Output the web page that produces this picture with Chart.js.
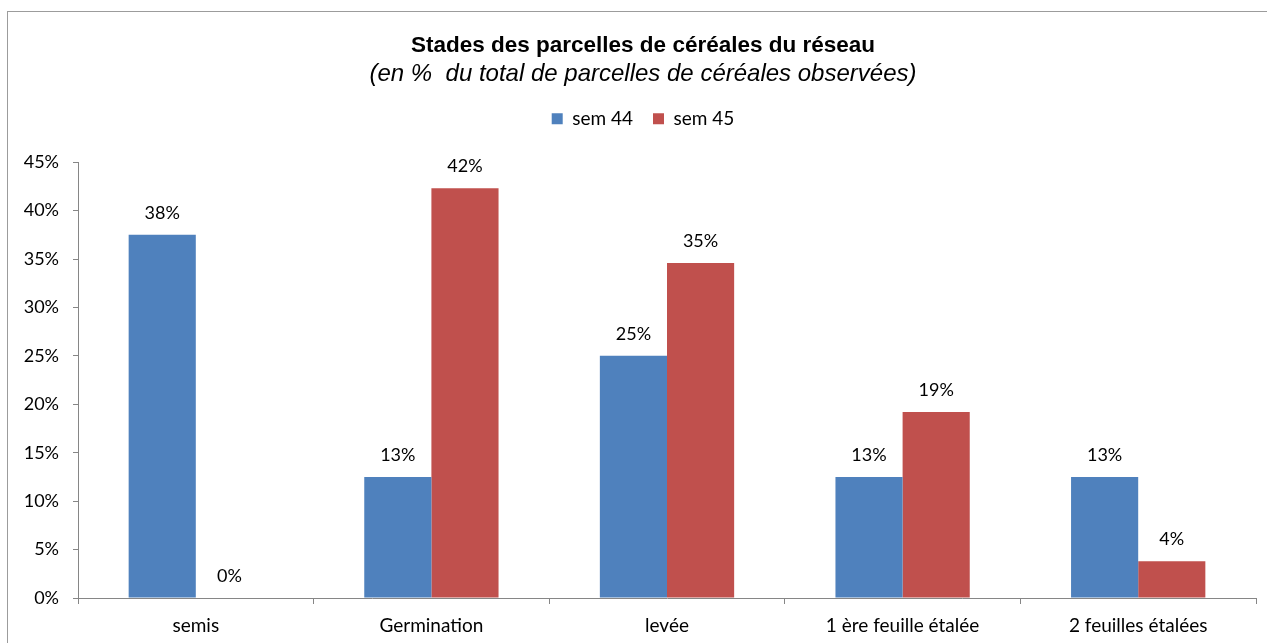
<!DOCTYPE html>
<html>
<head>
<meta charset="utf-8">
<script src="https://cdn.jsdelivr.net/npm/chart.js@4/dist/chart.umd.min.js"></script>
<style>
  html, body { margin: 0; padding: 0; background: #fff; overflow: hidden; }
  #frame {
    position: absolute; left: 7px; top: 11px;
    width: 1270px; height: 632px;
    border: 1px solid #9c9c9c;
  }
</style>
</head>
<body>
<div id="frame"><canvas id="chart"></canvas></div>
<script>
"use strict";

// Chart data (percent of cereal plots observed)
const stades = ["semis", "Germination", "levée", "1 ère feuille étalée", "2 feuilles étalées"];
const sem44 = [37.5, 12.5, 25, 12.5, 12.5];
const sem45 = [0, 42.3, 34.6, 19.2, 3.8];
const seriesNames = ["sem 44", "sem 45"];
const yMax = 45;
const yStep = 5;

const FONT = "Lato, 'Liberation Sans', sans-serif";
const TITLE_FONT = "'Liberation Sans', Arial, sans-serif";
const AXIS = "#868686";

// Value labels above each bar, rounded to whole percent
const barLabels = {
  id: "barLabels",
  afterDatasetsDraw(chart) {
    const ctx = chart.ctx;
    ctx.save();
    ctx.font = "18px " + FONT;
    ctx.fillStyle = "#000";
    ctx.textAlign = "center";
    ctx.textBaseline = "middle";
    chart.data.datasets.forEach((ds, i) => {
      chart.getDatasetMeta(i).data.forEach((bar, j) => {
        ctx.fillText(Math.round(ds.data[j]) + "%", bar.x, bar.y - 22);
      });
    });
    ctx.restore();
  },
};

// Extra room between the legend and the plot
const legendGap = {
  id: "legendGap",
  beforeInit(chart) {
    const fit = chart.legend.fit;
    chart.legend.fit = function () {
      fit.call(this);
      this.height += 24;
    };
  },
};

new Chart(document.getElementById("chart"), {
  type: "bar",
  data: {
    labels: stades,
    datasets: [
      { label: seriesNames[0], data: sem44, backgroundColor: "#4F81BD" },
      { label: seriesNames[1], data: sem45, backgroundColor: "#C0504D" },
    ],
  },
  options: {
    responsive: true, maintainAspectRatio: false, animation: false,
    layout: { padding: 0 },
    datasets: { bar: { barPercentage: 1, categoryPercentage: 0.57 } },
    plugins: {
      title: {
        display: true, text: "Stades des parcelles de céréales du réseau",
        color: "#000", font: { family: TITLE_FONT, size: 22.5, weight: "bold", lineHeight: 1.1 },
        padding: { top: 21, bottom: 3 },
      },
      subtitle: {
        display: true, text: "(en %  du total de parcelles de céréales observées)",
        color: "#000", font: { family: TITLE_FONT, size: 24, style: "italic", lineHeight: 1.1 },
        padding: { top: 0, bottom: 2 },
      },
      legend: {
        labels: { color: "#000", font: { family: FONT, size: 19 }, boxWidth: 11, boxHeight: 11, padding: 20 },
      },
      tooltip: { enabled: false },
    },
    scales: {
      x: {
        grid: { drawOnChartArea: false, color: AXIS, tickLength: 6, offset: true },
        border: { color: AXIS },
        ticks: { color: "#000", font: { family: FONT, size: 19 }, padding: 10 },
        afterFit: (s) => { s.height = 46; },
      },
      y: {
        min: 0, max: yMax,
        grid: { drawOnChartArea: false, color: AXIS, tickLength: 5 },
        border: { color: AXIS },
        ticks: { stepSize: yStep, color: "#000", font: { family: FONT, size: 18 }, padding: 14,
                 callback: (v) => v + "%" },
        afterFit: (s) => { s.width = 70; },
      },
      // empty right-hand spacer so the titles stay centred on the whole frame
      yRight: {
        position: "right", min: 0, max: yMax,
        grid: { display: false }, border: { display: false }, ticks: { display: false },
        afterFit: (s) => { s.width = 22; },
      },
    },
  },
  plugins: [barLabels, legendGap],
});
</script>
</body>
</html>
